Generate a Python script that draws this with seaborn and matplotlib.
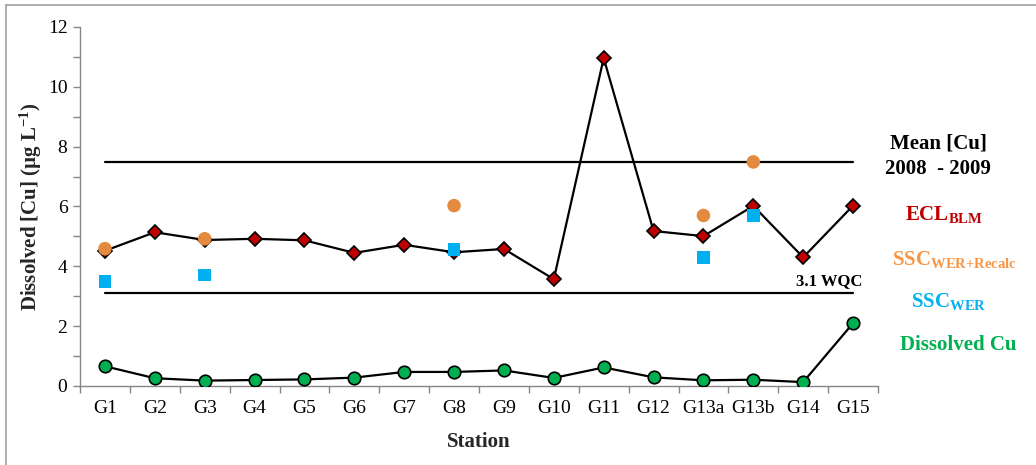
import matplotlib
matplotlib.use("Agg")
import matplotlib.pyplot as plt
from matplotlib.lines import Line2D
from matplotlib.ticker import MultipleLocator, FixedLocator
import numpy as np
import pandas as pd
import seaborn as sns

# Station order along the x axis
stations = ["G1", "G2", "G3", "G4", "G5", "G6", "G7", "G8", "G9", "G10",
            "G11", "G12", "G13a", "G13b", "G14", "G15"]

# Measured dissolved copper (µg/L)
dissolved_cu = [0.66, 0.26, 0.18, 0.20, 0.22, 0.28, 0.47, 0.47, 0.52, 0.27,
                0.62, 0.29, 0.19, 0.21, 0.13, 2.10]

# Effective copper limit from the biotic ligand model
ecl_blm = [4.52, 5.14, 4.88, 4.92, 4.87, 4.45, 4.72, 4.47, 4.58, 3.57,
           10.96, 5.18, 5.01, 6.02, 4.30, 6.03]

# Site-specific criteria (WER, recalculated)
ssc_recalc_stations = ["G1", "G3", "G8", "G13a", "G13b"]
ssc_recalc = [4.59, 4.92, 6.03, 5.70, 7.49]

# Site-specific criteria (WER)
ssc_wer_stations = ["G1", "G3", "G8", "G13a", "G13b"]
ssc_wer = [3.48, 3.71, 4.56, 4.30, 5.69]

# Reference levels
mean_cu_2008_2009 = 7.5
wqc = 3.1

sns.set_style("white")
plt.rcParams["font.family"] = ["Liberation Serif", "DejaVu Serif"]
plt.rcParams["mathtext.fontset"] = "custom"
plt.rcParams["mathtext.rm"] = "Liberation Serif"
plt.rcParams["mathtext.bf"] = "Liberation Serif:bold"
plt.rcParams["mathtext.it"] = "Liberation Serif:italic"

W, H = 1036, 465
fig = plt.figure(figsize=(W / 100, H / 100), dpi=100)
ax = fig.add_axes([80 / W, 1 - 386 / H, (878 - 80) / W, (386 - 27) / H])

pos = {s: i for i, s in enumerate(stations)}
x_all = np.arange(len(stations))

df_main = pd.DataFrame({"x": x_all, "cu": dissolved_cu, "ecl": ecl_blm})
df_recalc = pd.DataFrame({"x": [pos[s] for s in ssc_recalc_stations], "y": ssc_recalc})
df_wer = pd.DataFrame({"x": [pos[s] for s in ssc_wer_stations], "y": ssc_wer})

GREEN = "#00B050"
RED = "#C00000"
ORANGE = "#E38A3F"
ORANGE_TXT = "#F79646"
BLUE = "#00B0F0"
GRAY = "#868686"

# Reference lines from first to last station
ref_x = [x_all[0], x_all[-1]]
for level in (mean_cu_2008_2009, wqc):
    sns.lineplot(x=ref_x, y=[level, level], color="black", lw=1.6, ax=ax,
                 zorder=2)

sns.lineplot(data=df_main, x="x", y="ecl", color="black", lw=1.6, marker="D",
             markersize=7.3, markerfacecolor=RED, markeredgecolor="black",
             markeredgewidth=1.2, ax=ax, zorder=3)
sns.lineplot(data=df_main, x="x", y="cu", color="black", lw=1.6, marker="o",
             markersize=9, markerfacecolor=GREEN, markeredgecolor="black",
             markeredgewidth=1.2, ax=ax, zorder=3)
sns.scatterplot(data=df_recalc, x="x", y="y", marker="o", s=95, color=ORANGE,
                edgecolor="none", linewidth=0, ax=ax, zorder=4)
sns.scatterplot(data=df_wer, x="x", y="y", marker="s", s=85, color=BLUE,
                edgecolor="none", linewidth=0, ax=ax, zorder=4)

ax.set_xlim(-0.5, len(stations) - 0.5)
ax.set_ylim(0, 12)
ax.set_xticks(x_all)
ax.set_xticklabels(stations)
ax.xaxis.set_minor_locator(FixedLocator(np.arange(-0.5, len(stations), 1.0)))
ax.yaxis.set_major_locator(MultipleLocator(2))
ax.yaxis.set_minor_locator(MultipleLocator(1))
ax.tick_params(axis="x", which="major", length=0, pad=10, labelsize=14,
               labelcolor="black")
ax.tick_params(axis="x", which="minor", length=5, width=1, color=GRAY,
               direction="out", bottom=True)
ax.tick_params(axis="y", which="both", length=5, width=1, color=GRAY,
               direction="out", left=True, labelsize=14, labelcolor="black",
               pad=4)

for side in ("top", "right"):
    ax.spines[side].set_visible(False)
for side in ("left", "bottom"):
    ax.spines[side].set_color(GRAY)
    ax.spines[side].set_linewidth(1.0)

ax.set_xlabel("Station", fontsize=15, fontweight="bold", labelpad=11)
ax.set_ylabel(r"Dissolved [Cu] (µg L$^{\mathbf{{-}1}}$)", fontsize=15,
              fontweight="bold", labelpad=3)

# Series labels to the right of the plot
def ftext(px, py, s, color, size=15, **kw):
    fig.text(px / W, 1 - py / H, s, color=color, fontsize=size,
             fontweight="bold", ha="center", va="center", **kw)

ftext(938, 143, "Mean [Cu]", "black")
ftext(938, 169, "2008  - 2009", "black")
ftext(944, 214, r"$\mathbf{ECL}_{\mathbf{BLM}}$", RED)
ftext(954, 259, r"$\mathbf{SSC}_{\mathbf{WER{+}Recalc}}$", ORANGE_TXT)
ftext(949, 301, r"$\mathbf{SSC}_{\mathbf{WER}}$", BLUE)
ftext(958, 345, "Dissolved Cu", GREEN)
ftext(829, 281, "3.1 WQC", "black", size=12)

# Thin frame around the figure
fig.add_artist(Line2D([6 / W, 1], [1 - 5 / H, 1 - 5 / H], color="#A0A0A0",
                      lw=1.2, transform=fig.transFigure))
fig.add_artist(Line2D([6 / W, 6 / W], [0, 1 - 5 / H], color="#A0A0A0",
                      lw=1.2, transform=fig.transFigure))

fig.savefig("out.png", dpi=100, facecolor="white")
